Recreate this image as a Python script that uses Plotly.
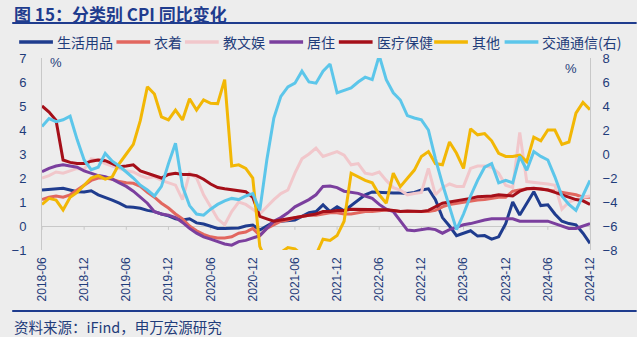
import pandas as pd
import plotly.graph_objects as go

months = [p.strftime("%Y-%m") for p in pd.period_range("2018-06", "2024-12", freq="M")]
tick_labels = months[::6]

household = [1.5, 1.52, 1.55, 1.57, 1.5, 1.43, 1.42, 1.47, 1.3, 1.2, 1.08, 0.95, 0.8, 0.78, 0.74, 0.65, 0.6, 0.5, 0.42, 0.3, 0.25, 0.3, 0.13, 0.08, 0.0,
             -0.1, -0.1, -0.1, -0.08, 0.0, 0.04, -0.17, 0.0, 0.17, 0.2, 0.22, 0.25, 0.4, 0.55, 0.6, 0.88, 0.6, 0.8, 0.63, 0.85, 1.08, 1.3, 1.42, 1.4, 1.37, 1.37, 1.37, 1.35, 1.4,
             1.5, 1.55, 1.1, 0.35, 0.0, -0.4, -0.3, -0.2, -0.42, -0.4, -0.55, -0.45, 0.1, 1.0, 0.46, 0.95, 1.43, 0.85, 0.88, 0.5, 0.2, 0.1, 0.05, -0.3, -0.72]

clothing = [1.1, 1.2, 1.25, 1.2, 1.3, 1.5, 1.7, 1.9, 2.0, 2.0, 1.95, 1.85, 1.8, 1.78, 1.65, 1.4, 1.2, 0.95, 0.75, 0.5, 0.3, 0.0, -0.2, -0.35, -0.45, -0.5, -0.5,
            -0.45, -0.3, -0.25, -0.1, -0.4, -0.1, 0.05, 0.2, 0.25, 0.35, 0.4, 0.45, 0.45, 0.5, 0.55, 0.55, 0.5, 0.5, 0.55, 0.6, 0.6, 0.65, 0.67, 0.65, 0.6, 0.6, 0.6, 0.6,
            0.6, 0.65, 0.8, 0.9, 0.95, 1.0, 1.05, 1.08, 1.1, 1.15, 1.2, 1.2, 1.45, 1.5, 1.55, 1.55, 1.55, 1.5, 1.45, 1.4, 1.35, 1.3, 1.2, 1.2]

education = [2.0, 2.1, 2.25, 2.2, 2.3, 2.4, 2.35, 2.8, 2.75, 2.6, 2.5, 2.4, 2.3, 2.25, 2.1, 2.0, 2.05, 1.9, 1.8, 1.7, 1.1, 2.2, 2.0, 1.3, 0.8, 0.3, 0.05,
             0.6, 1.0, 0.9, 0.7, 0.5, 0.8, 1.1, 1.35, 1.5, 2.2, 2.8, 3.0, 3.25, 2.9, 3.0, 3.1, 2.95, 2.55, 2.6, 2.2, 2.15, 2.25, 1.9, 1.6, 1.5, 1.3, 1.35, 1.4,
             2.4, 1.3, 1.6, 1.75, 1.65, 1.65, 2.4, 2.5, 2.5, 2.45, 2.2, 1.7, 1.6, 3.9, 1.85, 1.8, 1.78, 1.75, 1.7, 0.7, 1.0, 1.1, 1.2, 1.25]

housing = [2.26, 2.4, 2.5, 2.55, 2.5, 2.45, 2.3, 2.2, 2.1, 2.05, 1.95, 1.8, 1.65, 1.45, 1.2, 0.95, 0.6, 0.5, 0.45, 0.35, 0.15, -0.1, -0.3, -0.45, -0.55, -0.65,
           -0.75, -0.8, -0.65, -0.6, -0.5, -0.4, -0.1, 0.2, 0.35, 0.55, 0.8, 0.95, 1.1, 1.3, 1.65, 1.67, 1.6, 1.45, 1.4, 1.36, 1.25, 1.15, 0.9, 0.7, 0.6, 0.2, -0.17,
           -0.2, -0.15, -0.1, -0.15, -0.3, -0.15, -0.05, 0.05, 0.1, 0.18, 0.25, 0.3, 0.3, 0.3, 0.3, 0.2, 0.2, 0.2, 0.2, 0.2, 0.1, 0.0, -0.1, -0.1, 0.0, 0.1]

healthcare = [5.0, 4.75, 4.4, 2.75, 2.65, 2.6, 2.6, 2.7, 2.75, 2.72, 2.6, 2.47, 2.5, 2.55, 2.3, 2.2, 2.1, 2.0, 2.15, 2.2, 2.15, 2.15, 2.1, 1.95, 1.75,
              1.6, 1.55, 1.5, 1.45, 1.43, 1.2, 0.4, 0.3, 0.2, 0.25, 0.3, 0.35, 0.4, 0.45, 0.5, 0.6, 0.6, 0.65, 0.65, 0.7, 0.7, 0.7, 0.7, 0.7, 0.68, 0.65, 0.6, 0.62, 0.6, 0.6,
              0.65, 0.8, 0.95, 1.0, 1.05, 1.08, 1.15, 1.22, 1.22, 1.25, 1.3, 1.28, 1.25, 1.45, 1.55, 1.57, 1.52, 1.5, 1.4, 1.3, 1.22, 1.1, 1.05, 0.9]

others = [0.9, 1.15, 1.08, 0.67, 1.2, 1.4, 1.7, 2.0, 2.1, 1.95, 2.05, 2.6, 3.0, 3.4, 4.4, 5.8, 5.5, 4.55, 4.42, 4.83, 4.42, 5.3, 4.83, 5.25, 5.11, 5.1, 6.1,
          2.5, 2.55, 2.4, 2.0, -0.85, -1.5, -1.4, -1.1, -0.9, -0.95, -1.2, -1.6, -1.2, -0.55, -0.6, -0.4, 0.2, 2.2, 2.05, 1.9, 1.8, 1.3, 0.95, 2.2, 1.64, 2.0, 2.33,
          2.9, 3.1, 2.6, 2.55, 3.5, 3.03, 2.4, 4.05, 3.8, 3.85, 3.55, 3.03, 2.9, 2.9, 2.95, 2.68, 3.7, 3.55, 4.0, 4.0, 3.4, 3.5, 4.7, 5.15, 4.85]

transport = [2.3, 2.95, 2.7, 2.85, 3.15, 1.2, -0.5, -1.3, -1.1, 0.05, -0.6, -1.0, -1.5, -2.0, -2.6, -3.0, -3.5, -2.7, -0.8, 0.9, -2.7, -4.3, -5.0, -5.1, -4.6,
             -4.2, -3.9, -3.7, -3.8, -3.5, -3.3, -4.7, -0.5, 3.0, 4.8, 5.6, 5.9, 6.9, 6.0, 5.9, 6.9, 7.5, 5.1, 5.3, 5.5, 6.0, 6.4, 6.2, 8.2, 6.2, 5.1, 4.5, 3.2, 3.0, 2.85,
             2.0, -0.4, -2.5, -4.4, -6.3, -5.0, -3.5, -2.2, -1.1, -0.8, -2.4, -2.2, -2.4, -0.2, -1.35, 0.2, -0.2, -0.5, -1.9, -3.5, -4.2, -4.7, -3.5, -2.2]

series = [
    ("生活用品", household, "#1F3C8E", "y"),
    ("衣着", clothing, "#E2675F", "y"),
    ("教文娱", education, "#F1C7CB", "y"),
    ("居住", housing, "#7B3F9E", "y"),
    ("医疗保健", healthcare, "#A50F19", "y"),
    ("其他", others, "#F2B705", "y"),
    ("交通通信(右)", transport, "#5CC6EA", "y2"),
]

# legend sample start x (pixels) for each entry
legend_x = [15, 113, 182, 267, 337, 433, 504]

W, H = 637, 337
L, R, T, B = 38, 47, 58, 87
PW, PH = W - L - R, H - T - B


def px(x):
    return (x - L) / PW


def py(y):
    return 1 - (y - T) / PH


BG = "#EDEDED"
TXT = "#1F3C7A"
GRID = "#C8C8C8"
FONT = "Liberation Sans, Noto Sans CJK SC"
CJK = "Noto Sans CJK SC"

fig = go.Figure()

# small tick marks on the zero line at each labelled month
for t in tick_labels:
    fig.add_shape(type="line", xref="x", yref="y", x0=t, x1=t, y0=0, y1=-0.16,
                  line=dict(color=GRID, width=1), layer="below")

for name, vals, color, ax in series:
    fig.add_trace(go.Scatter(x=months, y=vals, name=name, mode="lines",
                             line=dict(color=color, width=3), yaxis=ax, showlegend=False))

fig.update_layout(
    width=W, height=H,
    margin=dict(l=L, r=R, t=T, b=B),
    paper_bgcolor=BG, plot_bgcolor=BG,
    font=dict(family=FONT, color=TXT, size=13),
    showlegend=False,
    xaxis=dict(type="category", range=[0, len(months) - 1], tickmode="array",
               tickvals=tick_labels, ticktext=tick_labels, tickangle=-90,
               tickfont=dict(size=12, color=TXT), showgrid=False, showline=False,
               ticks="", ticklabelstandoff=4),
    yaxis=dict(range=[-1, 7], dtick=1, showgrid=False, zeroline=True, zerolinecolor=GRID,
               zerolinewidth=1, showline=True, linecolor=GRID, linewidth=1, ticks="",
               tickfont=dict(size=13, color=TXT), ticklabelstandoff=12),
    yaxis2=dict(range=[-8, 8], dtick=2, overlaying="y", side="right", showgrid=False,
                zeroline=False, showline=True, linecolor=GRID, linewidth=1, ticks="",
                tickfont=dict(size=13, color=TXT), ticklabelstandoff=9),
)

# custom legend
for (name, vals, color, ax), lx in zip(series, legend_x):
    fig.add_shape(type="line", xref="paper", yref="paper", x0=px(lx), x1=px(lx + 34),
                  y0=py(42), y1=py(42), line=dict(color=color, width=3.5))
    fig.add_annotation(text=name, xref="paper", yref="paper", x=px(lx + 36), y=py(42),
                       xanchor="left", yanchor="middle", showarrow=False,
                       font=dict(family=CJK, size=14, color=TXT))

fig.add_annotation(text="<b>图 15：分类别 CPI 同比变化</b>", xref="paper", yref="paper",
                   x=px(8), y=py(13), xanchor="left", yanchor="middle",
                   showarrow=False, font=dict(family=CJK, size=17, color="#1F3C8E"))
fig.add_shape(type="line", xref="paper", yref="paper", x0=px(8), x1=px(637),
              y0=py(23), y1=py(23), line=dict(color="#1F3C8E", width=2))
fig.add_shape(type="line", xref="paper", yref="paper", x0=px(8), x1=px(637),
              y0=py(311), y1=py(311), line=dict(color="#1F3C8E", width=2))
fig.add_annotation(text="资料来源：iFind，申万宏源研究", xref="paper", yref="paper",
                   x=px(8), y=py(326), xanchor="left", yanchor="middle",
                   showarrow=False, font=dict(family=CJK, size=14.5, color=TXT))
fig.add_annotation(text="%", xref="paper", yref="paper", x=px(52), y=py(63),
                   xanchor="center", yanchor="middle", showarrow=False, font=dict(size=13, color=TXT))
fig.add_annotation(text="%", xref="paper", yref="paper", x=px(571), y=py(68),
                   xanchor="center", yanchor="middle", showarrow=False, font=dict(size=13, color=TXT))

fig.write_html("out.html")
